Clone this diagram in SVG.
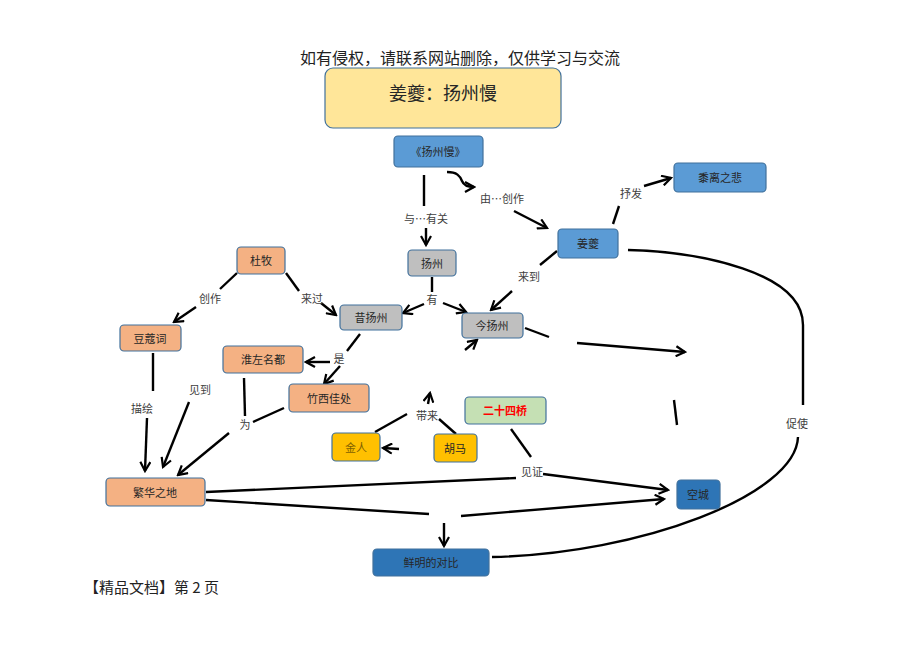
<svg xmlns="http://www.w3.org/2000/svg" width="920" height="651" viewBox="0 0 920 651">
<defs>
<marker id="ah" viewBox="0 0 12 12" refX="10" refY="6" markerWidth="12" markerHeight="12" markerUnits="userSpaceOnUse" orient="auto">
<path d="M1,1 L10,6 L1,11" fill="none" stroke="#000" stroke-width="2.2"/>
</marker>
<style>
.n{stroke:#41719C;stroke-width:1.2}
.blue{fill:#5B9BD5}
.dblue{fill:#2E75B6}
.org{fill:#F4B183}
.gray{fill:#BFBFBF}
.grn{fill:#C5E0B4}
.yel{fill:#FFC000}
.t{font-family:"Noto Sans CJK SC","Noto Sans",sans-serif;font-size:11px;fill:#262626;text-anchor:middle;dominant-baseline:central}
.lb{font-family:"Noto Sans CJK SC","Noto Sans",sans-serif;font-size:11px;fill:#404040;text-anchor:middle;dominant-baseline:central}
.c path,.c line{fill:none;stroke:#000;stroke-width:2.4}
.a{marker-end:url(#ah)}
</style>
</defs>
<rect width="920" height="651" fill="#fff"/>
<text x="460" y="57" style="font-family:'Noto Sans CJK SC',serif;font-size:16px;fill:#222;text-anchor:middle;dominant-baseline:central">如有侵权，请联系网站删除，仅供学习与交流</text>
<text x="84" y="586" style="font-family:'Noto Sans CJK SC',serif;font-size:15px;fill:#222;dominant-baseline:central">【精品文档】第 2 页</text>

<g class="c" id="connectors">
<line x1="424" y1="175" x2="424" y2="206"/>
<line class="a" x1="426" y1="228" x2="426" y2="245"/>
<path class="a" d="M447,172 C457,172 460,176 462,181 C464,186 468,187 474,187"/>
<line class="a" x1="514" y1="211" x2="547" y2="228"/>
<line x1="613" y1="224" x2="619" y2="206"/>
<line class="a" x1="644" y1="186" x2="671" y2="178"/>
<line x1="557" y1="251" x2="540" y2="265"/>
<line class="a" x1="512" y1="291" x2="491" y2="310"/>
<path d="M628,250 C700,252 803,272 803,325 L803,405"/>
<path d="M798,437 C796,495 640,554 492,557"/>
<line x1="237" y1="273" x2="220" y2="289"/>
<line class="a" x1="196" y1="307" x2="174" y2="322"/>
<line x1="286" y1="273" x2="299" y2="291"/>
<line class="a" x1="321" y1="303" x2="336" y2="315"/>
<line x1="432" y1="277" x2="432" y2="292"/>
<line class="a" x1="424" y1="304" x2="403" y2="313"/>
<line class="a" x1="443" y1="303" x2="466" y2="312"/>
<line x1="360" y1="334" x2="347" y2="351"/>
<line class="a" x1="330" y1="362" x2="306" y2="362"/>
<line class="a" x1="340" y1="366" x2="324" y2="384"/>
<line x1="525" y1="328" x2="549" y2="337"/>
<line class="a" x1="577" y1="343" x2="685" y2="352"/>
<line class="a" x1="465" y1="350" x2="477" y2="340"/>
<line x1="674" y1="400" x2="677" y2="425"/>
<line x1="153" y1="353" x2="153" y2="391"/>
<line class="a" x1="147" y1="418" x2="145" y2="471"/>
<line class="a" x1="189" y1="402" x2="163" y2="467"/>
<line x1="244" y1="378" x2="245" y2="416"/>
<line x1="284" y1="408" x2="253" y2="422"/>
<line class="a" x1="229" y1="433" x2="178" y2="475"/>
<line x1="375" y1="432" x2="407" y2="414"/>
<line x1="439" y1="419" x2="456" y2="434"/>
<line class="a" x1="428" y1="404" x2="430" y2="393"/>
<line class="a" x1="399" y1="449" x2="383" y2="448"/>
<line x1="511" y1="429" x2="531" y2="457"/>
<line class="a" x1="543" y1="474" x2="668" y2="490"/>
<line x1="206" y1="492" x2="516" y2="478"/>
<line x1="206" y1="500" x2="429" y2="514"/>
<line class="a" x1="461" y1="516" x2="664" y2="499"/>
<line class="a" x1="444" y1="523" x2="444" y2="546"/>
<text class="lb" x="426" y="218">与…有关</text>
<text class="lb" x="502" y="198">由…创作</text>
<text class="lb" x="631" y="193">抒发</text>
<text class="lb" x="529" y="276">来到</text>
<text class="lb" x="797" y="423">促使</text>
<text class="lb" x="210" y="298">创作</text>
<text class="lb" x="312" y="298">来过</text>
<text class="lb" x="432" y="299">有</text>
<text class="lb" x="339" y="358">是</text>
<text class="lb" x="142" y="408">描绘</text>
<text class="lb" x="200" y="389">见到</text>
<text class="lb" x="245" y="424">为</text>
<text class="lb" x="427" y="415">带来</text>
<text class="lb" x="532" y="471">见证</text>
</g>

<g id="title"><rect class="n" x="325" y="68" width="236" height="60" rx="8" fill="#FFE699"/><text class="t" x="443" y="92" style="font-size:18px">姜夔：扬州慢</text></g>
<g id="yzm"><rect class="n blue" x="394" y="136" width="89" height="31" rx="4"/><text class="t" x="438" y="151">《扬州慢》</text></g>
<g id="sllb"><rect class="n blue" x="674" y="163" width="92" height="29" rx="4"/><text class="t" x="720" y="177">黍离之悲</text></g>
<g id="jk"><rect class="n blue" x="558" y="229" width="60" height="29" rx="4"/><text class="t" x="588" y="243">姜夔</text></g>
<g id="dm"><rect class="n org" x="237" y="247" width="48" height="27" rx="4"/><text class="t" x="261" y="260">杜牧</text></g>
<g id="yz"><rect class="n gray" x="408" y="250" width="48" height="26" rx="4"/><text class="t" x="432" y="263">扬州</text></g>
<g id="xyz"><rect class="n gray" x="340" y="305" width="62" height="25" rx="4"/><text class="t" x="371" y="317">昔扬州</text></g>
<g id="jyz"><rect class="n gray" x="462" y="313" width="61" height="25" rx="4"/><text class="t" x="492" y="325">今扬州</text></g>
<g id="dkc"><rect class="n org" x="120" y="325" width="61" height="26" rx="4"/><text class="t" x="150" y="338">豆蔻词</text></g>
<g id="hzmd"><rect class="n org" x="223" y="346" width="80" height="27" rx="4"/><text class="t" x="263" y="359">淮左名都</text></g>
<g id="zxjc"><rect class="n org" x="289" y="384" width="80" height="28" rx="4"/><text class="t" x="329" y="398">竹西佳处</text></g>
<g id="essq"><rect class="n grn" x="465" y="397" width="81" height="27" rx="4"/><text class="t" x="505" y="410" style="fill:#FF0000;font-weight:bold">二十四桥</text></g>
<g id="jr"><rect class="n yel" x="332" y="433" width="48" height="28" rx="4"/><text class="t" x="356" y="447" style="fill:#7F6000">金人</text></g>
<g id="hm"><rect class="n yel" x="434" y="434" width="43" height="28" rx="4"/><text class="t" x="455" y="448">胡马</text></g>
<g id="fhzd"><rect class="n org" x="106" y="478" width="99" height="28" rx="4"/><text class="t" x="155" y="492">繁华之地</text></g>
<g id="kc"><rect class="n dblue" x="677" y="480" width="43" height="29" rx="4"/><text class="t" x="698" y="494">空城</text></g>
<g id="xmddb"><rect class="n dblue" x="373" y="549" width="116" height="27" rx="4"/><text class="t" x="431" y="562">鲜明的对比</text></g>
</svg>
